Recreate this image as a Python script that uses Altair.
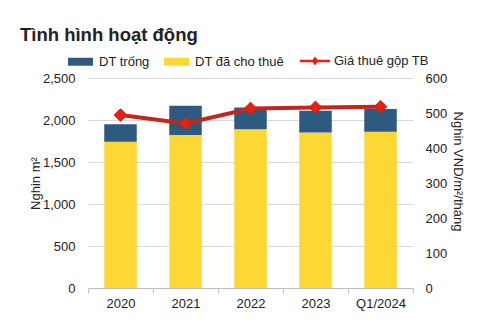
import altair as alt
import pandas as pd

categories = ["2020", "2021", "2022", "2023", "Q1/2024"]
leased = [1740, 1820, 1890, 1850, 1860]
vacant = [210, 350, 260, 260, 270]
rent = [494, 470, 513, 516, 518]

s_vacant = "DT trống"
s_leased = "DT đã cho thuê"
s_rent = "Giá thuê gộp TB"

FONT = "Liberation Sans"
TXT = "#222222"

rows = []
for c, l, v in zip(categories, leased, vacant):
    rows.append({"cat": c, "series": s_leased, "value": l, "ord": 1})
    rows.append({"cat": c, "series": s_vacant, "value": v, "ord": 2})
bars_df = pd.DataFrame(rows)
line_df = pd.DataFrame({"cat": categories, "rent": rent, "series": [s_rent] * len(categories)})

xenc = alt.X(
    "cat:N",
    sort=categories,
    scale=alt.Scale(paddingInner=0, paddingOuter=0),
    axis=alt.Axis(
        title=None, labelAngle=0, labelFont=FONT, labelFontSize=13, labelColor=TXT,
        domainColor="#BFBFBF", tickColor="#BFBFBF", tickSize=5, tickBand="extent",
        labelPadding=4, grid=False,
    ),
)

bars = alt.Chart(bars_df).mark_bar(width=alt.RelativeBandSize(0.5)).encode(
    x=xenc,
    y=alt.Y(
        "value:Q",
        stack="zero",
        scale=alt.Scale(domain=[0, 2500]),
        axis=alt.Axis(
            values=[0, 500, 1000, 1500, 2000, 2500], format=",.0f", title="Nghin m²",
            labelFont=FONT, labelFontSize=13, labelColor=TXT, labelPadding=13,
            domain=False, ticks=False, gridColor="#D9D9D9",
            titleFont=FONT, titleFontSize=13, titleColor=TXT, titleFontWeight="normal",
            titleAngle=270, titleX=-53, titleY=105, titleAlign="center", titleBaseline="middle",
        ),
    ),
    color=alt.Color(
        "series:N",
        scale=alt.Scale(domain=[s_vacant, s_leased], range=["#2D5A80", "#FDD835"]),
        legend=alt.Legend(
            title=None, orient="none", direction="horizontal", legendX=-20, legendY=-29,
            symbolType="M-1,-0.32L1,-0.32L1,0.32L-1,0.32Z", symbolSize=625,
            symbolStrokeWidth=0, labelFont=FONT, labelFontSize=13, labelColor=TXT,
            labelOffset=6, columnPadding=14, padding=0,
        ),
    ),
    order=alt.Order("ord:Q"),
)

line = alt.Chart(line_df).mark_line(
    color="#C0281B", strokeWidth=4,
    point=alt.OverlayMarkDef(shape="diamond", filled=True, size=160, fill="#E8200F",
                             stroke="#7A2A10", strokeWidth=1, opacity=1),
).encode(
    x=alt.X("cat:N", sort=categories),
    y=alt.Y(
        "rent:Q",
        scale=alt.Scale(domain=[0, 600]),
        axis=alt.Axis(
            orient="right", values=[0, 100, 200, 300, 400, 500, 600], title="Nghin VND/m²/tháng",
            labelFont=FONT, labelFontSize=13, labelColor=TXT, labelPadding=12,
            domain=False, ticks=False, grid=False,
            titleFont=FONT, titleFontSize=13, titleColor=TXT, titleFontWeight="normal",
            titleAngle=90, titleX=44, titleY=93, titleAlign="center", titleBaseline="middle",
        ),
    ),
    stroke=alt.Stroke(
        "series:N",
        scale=alt.Scale(domain=[s_rent], range=["#C0281B"]),
        legend=alt.Legend(
            title=None, orient="none", direction="horizontal", legendX=212, legendY=-32,
            symbolType="M-1,-0.08L1,-0.08L1,0.08L-1,0.08Z M0,-0.3L0.22,0L0,0.3L-0.22,0Z",
            symbolSize=900, symbolFillColor="#C0281B", symbolStrokeWidth=0,
            labelFont=FONT, labelFontSize=13, labelColor=TXT, labelOffset=4, padding=0,
        ),
    ),
)

chart = alt.layer(bars, line).resolve_scale(
    y="independent", color="independent", stroke="independent"
).properties(
    width=325,
    height=210,
    autosize=alt.AutoSizeParams(type="none"),
    padding={"left": 88, "top": 78, "right": 78, "bottom": 38},
    background="white",
    title=alt.TitleParams(
        "Tình hình hoạt động", anchor="start", frame="group", dx=-68, offset=2,
        font=FONT, fontSize=18.5, fontWeight="bold", color=TXT,
    ),
).configure_view(stroke=None)

chart.save("out.html", embed_options={"renderer": "svg", "actions": False})
